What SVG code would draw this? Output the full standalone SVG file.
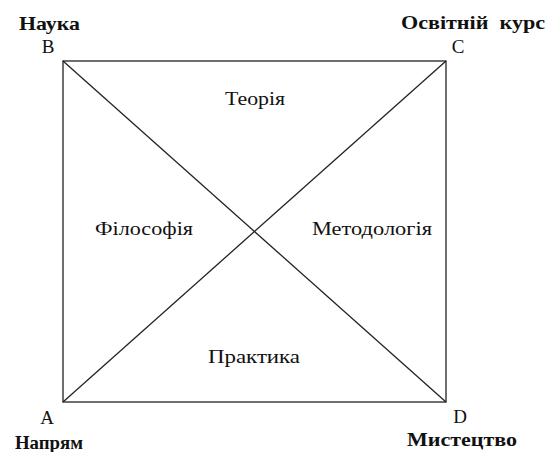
<svg xmlns="http://www.w3.org/2000/svg" width="547" height="452" viewBox="0 0 547 452">
<style>
.t{font-family:"Liberation Serif","DejaVu Serif","Times New Roman",serif;font-size:19px;fill:#111}
.b{font-family:"Liberation Serif","DejaVu Serif","Times New Roman",serif;font-size:19px;font-weight:bold;fill:#111}
.ln{stroke:#222;stroke-width:1.3;fill:none}
</style>
<rect width="547" height="452" fill="#fff"/>
<g id="connectors">
<rect class="ln" x="63" y="61" width="383" height="341"/>
<line class="ln" x1="63" y1="61" x2="446" y2="402"/>
<line class="ln" x1="63" y1="402" x2="446" y2="61"/>
</g>
<g id="B"><text class="b" x="19" y="30" textLength="61" lengthAdjust="spacingAndGlyphs">Наука</text><text class="t" x="48" y="53" text-anchor="middle">B</text></g>
<g id="C"><text class="b" x="401" y="29" textLength="144" lengthAdjust="spacingAndGlyphs" xml:space="preserve">Освітній  курс</text><text class="t" x="458" y="53" text-anchor="middle">C</text></g>
<g id="A"><text class="t" x="47" y="424" text-anchor="middle">A</text><text class="b" x="15" y="449" textLength="68" lengthAdjust="spacingAndGlyphs">Напрям</text></g>
<g id="D"><text class="t" x="460" y="423" text-anchor="middle">D</text><text class="b" x="407" y="446" textLength="110" lengthAdjust="spacingAndGlyphs">Мистецтво</text></g>
<g id="teoriya"><text class="t" x="225" y="105" textLength="60" lengthAdjust="spacingAndGlyphs">Теорія</text></g>
<g id="filosofiya"><text class="t" x="95" y="235" textLength="98" lengthAdjust="spacingAndGlyphs">Філософія</text></g>
<g id="metodologiya"><text class="t" x="312" y="235" textLength="120" lengthAdjust="spacingAndGlyphs">Методологія</text></g>
<g id="praktyka"><text class="t" x="208" y="363" textLength="92" lengthAdjust="spacingAndGlyphs">Практика</text></g>
</svg>
